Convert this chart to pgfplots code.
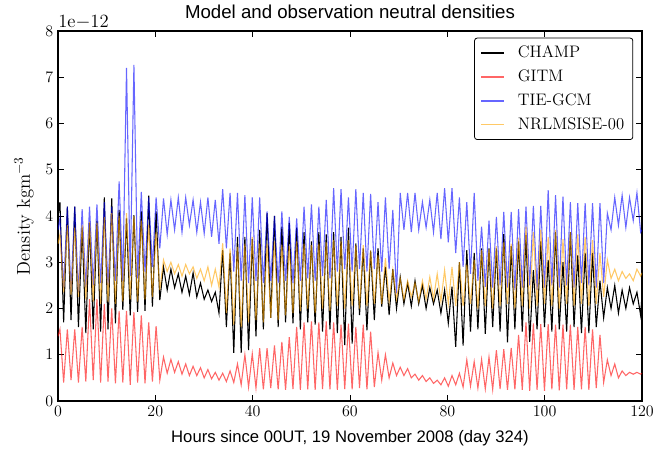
\documentclass[border=0pt]{standalone}
\usepackage{fontspec}
\usepackage{pgfplots}
\usepackage{pgfplotstable}
\pgfplotsset{compat=1.18}
\newfontfamily\helv{Liberation Sans}
\definecolor{nrlorange}{RGB}{255,165,0}

% densities in units of 1e-12 kg m^-3
% t = hours, c = CHAMP, g = GITM, b = TIE-GCM, n = NRLMSISE-00
\pgfplotstableread{
t c g b n
0.00 4.00 1.40 3.70 3.40
0.40 4.30 1.55 3.95 3.60
1.16 1.70 0.40 2.45 2.35
1.92 4.20 1.55 4.20 3.80
2.68 1.75 0.45 2.40 2.30
3.44 4.20 1.55 4.20 3.75
4.20 1.60 0.40 2.35 2.25
4.96 3.75 1.60 4.15 3.80
5.72 1.47 0.42 2.45 2.20
6.48 3.85 2.20 4.20 3.87
7.24 1.55 0.45 2.50 2.15
8.00 3.90 2.20 4.25 3.85
8.76 1.50 0.40 2.55 2.10
9.52 4.40 2.10 4.30 3.98
10.28 1.55 0.42 2.50 2.15
11.04 4.38 2.00 4.20 4.06
11.80 1.68 0.38 2.60 2.10
12.56 4.13 1.95 4.75 4.00
13.32 1.97 0.40 2.60 2.15
14.08 3.95 1.95 7.20 4.06
14.84 1.85 0.35 2.70 2.20
15.60 4.02 1.92 7.27 4.00
16.36 1.93 0.40 2.65 2.15
17.12 4.10 1.85 4.52 3.90
17.88 1.95 0.38 2.80 2.20
18.64 4.44 1.70 4.40 3.80
19.40 2.04 0.42 2.90 2.25
20.16 4.10 1.62 4.40 3.65
20.92 2.18 0.45 3.30 2.40
21.68 2.90 0.95 4.38 3.05
22.44 2.40 0.60 3.60 2.80
23.20 2.85 0.90 4.35 3.00
23.96 2.45 0.62 3.70 2.75
24.72 2.75 0.85 4.40 2.95
25.48 2.35 0.58 3.65 2.70
26.24 2.70 0.80 4.40 2.95
27.00 2.30 0.55 3.80 2.75
27.76 2.77 0.75 4.35 2.90
28.52 2.25 0.55 3.65 2.65
29.28 2.55 0.72 4.30 2.85
30.04 2.20 0.50 3.62 2.60
30.80 2.40 0.68 4.40 2.90
31.56 2.15 0.48 3.55 2.50
32.32 2.35 0.62 4.35 2.85
33.08 1.90 0.45 3.40 2.46
33.84 3.26 0.60 4.58 3.41
34.60 1.60 0.42 3.30 1.90
35.36 3.20 0.65 4.50 3.30
36.12 1.04 0.40 2.80 1.65
36.88 3.55 0.80 4.50 3.33
37.64 1.04 0.35 2.60 1.60
38.40 3.55 1.00 4.45 3.40
39.16 1.10 0.30 2.55 1.70
39.92 3.50 1.02 4.40 3.55
40.68 1.40 0.28 2.60 1.75
41.44 3.70 1.14 4.40 3.40
42.20 1.55 0.25 2.55 1.70
42.96 4.06 1.14 4.10 3.40
43.72 1.80 0.28 2.60 1.80
44.48 4.00 1.20 4.00 3.45
45.24 1.60 0.25 2.55 1.75
46.00 3.77 1.28 4.10 3.37
46.76 1.70 0.24 2.60 1.85
47.52 3.85 1.38 3.98 3.35
48.28 1.68 0.26 2.55 1.90
49.04 3.75 1.60 3.95 3.45
49.80 1.55 0.24 2.60 1.95
50.56 3.65 1.70 4.20 3.40
51.32 1.70 0.25 2.65 2.00
52.08 3.45 1.72 4.25 3.37
52.84 1.65 0.24 2.60 1.90
53.60 3.65 1.70 4.20 3.40
54.36 1.50 0.26 2.70 2.00
55.12 3.60 1.72 4.35 3.43
55.88 1.55 0.25 2.65 1.95
56.64 3.65 1.70 4.60 3.48
57.40 1.47 0.24 2.80 2.05
58.16 3.55 1.65 4.58 3.45
58.92 1.21 0.26 2.85 2.00
59.68 3.75 1.67 4.40 3.48
60.44 1.24 0.25 2.80 2.05
61.20 3.41 1.60 4.58 3.37
61.96 1.86 0.28 2.85 2.00
62.72 3.30 1.65 4.50 3.37
63.48 1.53 0.25 2.80 2.05
64.24 3.25 1.50 4.48 3.25
65.00 1.75 0.30 2.85 2.10
65.76 3.30 1.05 4.30 3.15
66.52 2.04 0.45 2.80 2.10
67.28 2.90 1.00 4.40 3.09
68.04 1.86 0.50 2.85 2.15
68.80 2.85 0.82 4.13 2.83
69.56 2.00 0.55 2.33 2.20
70.32 2.68 0.73 4.50 2.65
71.08 2.10 0.55 3.70 2.20
71.84 2.55 0.70 4.50 2.60
72.60 2.05 0.50 3.65 2.25
73.36 2.60 0.58 4.50 2.55
74.12 2.10 0.45 3.70 2.15
74.88 2.50 0.55 4.30 2.60
75.64 2.00 0.42 3.75 2.20
76.40 2.45 0.50 4.35 2.68
77.16 2.10 0.38 3.65 2.20
77.92 2.40 0.45 4.50 2.75
78.68 1.90 0.35 3.50 2.15
79.44 2.40 0.50 4.60 2.83
80.20 1.68 0.32 3.43 2.10
80.96 2.47 0.55 4.60 2.90
81.72 1.17 0.35 3.20 2.05
82.48 3.00 0.60 4.40 3.00
83.24 1.20 0.30 2.90 2.05
84.00 3.26 0.89 4.30 2.95
84.76 1.50 0.32 2.75 2.10
85.52 3.20 0.85 4.50 3.05
86.28 1.55 0.28 2.60 2.00
87.04 3.30 0.90 3.77 3.26
87.80 1.45 0.26 2.47 2.05
88.56 3.30 0.95 3.90 3.28
89.32 1.60 0.25 2.45 2.00
90.08 3.30 1.10 3.98 3.35
90.84 1.50 0.26 2.50 2.05
91.60 3.61 1.12 4.09 3.43
92.36 1.27 0.24 2.45 2.10
93.12 3.35 1.15 4.09 3.40
93.88 1.55 0.25 2.40 2.00
94.64 3.45 1.43 4.15 3.53
95.40 1.50 0.24 2.45 2.05
96.16 3.59 1.70 4.20 3.77
96.92 1.28 0.22 2.50 2.00
97.68 2.83 1.68 4.22 3.65
98.44 1.55 0.24 2.40 2.05
99.20 3.45 1.66 4.22 3.70
99.96 1.60 0.22 2.45 2.10
100.72 3.05 1.66 4.56 3.55
101.48 1.50 0.25 2.50 2.05
102.24 3.65 1.65 4.45 3.70
103.00 1.55 0.23 2.45 2.00
103.76 3.00 1.65 4.42 3.50
104.52 1.50 0.25 2.50 2.10
105.28 3.65 1.65 4.30 3.65
106.04 1.60 0.24 2.45 2.05
106.80 3.15 1.60 4.28 3.60
107.56 1.47 0.25 2.55 2.10
108.32 3.20 1.60 4.28 3.55
109.08 1.47 0.24 2.50 2.05
109.84 3.20 1.55 4.28 3.48
110.60 1.60 0.28 2.45 2.10
111.36 2.60 1.43 4.28 3.20
112.12 1.80 0.40 2.55 2.25
112.88 2.45 0.89 4.06 3.05
113.64 2.00 0.55 3.70 2.65
114.40 2.50 0.80 4.40 2.85
115.16 1.90 0.50 3.80 2.60
115.92 2.40 0.65 4.45 2.80
116.68 2.00 0.55 3.75 2.65
117.44 2.45 0.62 4.40 2.75
118.20 2.10 0.58 3.90 2.60
118.96 2.35 0.62 4.50 2.85
119.72 1.85 0.58 3.65 2.70
120.00 2.30 0.60 3.70 2.77
}\dens

\begin{document}
\begin{tikzpicture}
\begin{axis}[
    name=ax,
    scale only axis,
    width=438pt, height=277.5pt,
    xmin=0, xmax=120, ymin=0, ymax=8,
    xtick={0,20,...,120},
    ytick={0,1,...,8},
    tick align=inside,
    major tick length=4.5pt,
    tick style={black, line width=0.6pt},
    axis line style={line width=1pt},
    tick label style={font=\fontsize{12}{14}\selectfont},
    title={Model and observation neutral densities},
    title style={font=\helv\fontsize{14}{16}\selectfont, yshift=0pt},
    xlabel={Hours since 00UT, 19 November 2008 (day 324)},
    xlabel style={font=\helv\fontsize{12.5}{14}\selectfont, yshift=-4pt},
    ylabel={Density kgm$^{-3}$},
    ylabel style={font=\fontsize{14}{16}\selectfont, yshift=2pt},
    legend cell align=left,
    legend style={at={(0.985,0.982)}, anchor=north east, draw=black,
        line width=0.6pt, rounded corners=2pt,
        font=\fontsize{12.5}{15}\selectfont,
        inner xsep=4.5pt, inner ysep=4pt,
        nodes={inner sep=2pt},
        row sep=3.6pt, column sep=8pt},
    legend image code/.code={\draw[#1, line width=1pt] (0pt,0pt) -- (17pt,0pt);},
]
\addplot[black, line width=0.8pt] table[x=t, y=c] {\dens};
\addlegendentry{CHAMP}
\addplot[red, draw opacity=0.6, line width=0.8pt] table[x=t, y=g] {\dens};
\addlegendentry{GITM}
\addplot[blue, draw opacity=0.6, line width=0.8pt] table[x=t, y=b] {\dens};
\addlegendentry{TIE-GCM}
\addplot[nrlorange, draw opacity=0.6, line width=0.8pt] table[x=t, y=n] {\dens};
\addlegendentry{NRLMSISE-00}
\end{axis}
\node[anchor=south west, inner sep=0pt, font=\fontsize{14}{16}\selectfont]
    at ([yshift=1.5pt]ax.north west) {1e$-$12};
\path (ax.south west) ++(-43.5pt,-39pt) rectangle ++(501pt,339.75pt);
\end{tikzpicture}
\end{document}
